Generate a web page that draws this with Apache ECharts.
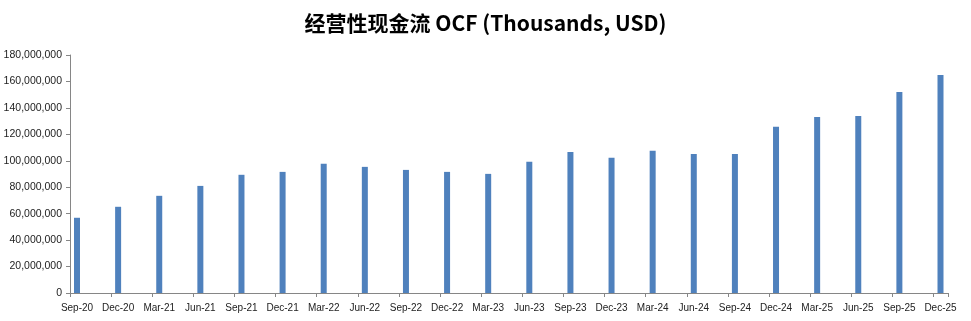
<!DOCTYPE html>
<html>
<head>
<meta charset="utf-8">
<script src="https://cdn.jsdelivr.net/npm/echarts@6/dist/echarts.min.js"></script>
<style>html,body{margin:0;padding:0;background:#fff}#c{width:971px;height:321px}</style>
</head>
<body>
<div id="c"></div>
<script>
var titleText = '经营性现金流 OCF (Thousands, USD)';
var categories = ['Sep-20','Dec-20','Mar-21','Jun-21','Sep-21','Dec-21','Mar-22','Jun-22','Sep-22','Dec-22','Mar-23','Jun-23','Sep-23','Dec-23','Mar-24','Jun-24','Sep-24','Dec-24','Mar-25','Jun-25','Sep-25','Dec-25'];
var ocfValues = [56900000, 65200000, 73500000, 81000000, 89400000, 91600000, 97700000, 95400000, 93100000, 91600000, 90100000, 99200000, 106700000, 102200000, 107500000, 105200000, 105200000, 125700000, 133200000, 133900000, 152000000, 164900000];
var yMin = 0, yMax = 180000000, yStep = 20000000;

var chart = echarts.init(document.getElementById('c'), null, {renderer: 'canvas'});
var axisColor = '#868686';
var labelFont = 'Liberation Sans';
chart.setOption({
  animation: false,
  backgroundColor: '#ffffff',
  title: {
    text: titleText,
    left: 'center',
    top: 8,
    textStyle: {fontFamily: 'Noto Sans CJK SC', fontWeight: 'bold', fontSize: 21, color: '#000'}
  },
  grid: [
    {left: 77, right: 30.5, top: 55, height: 238, containLabel: false},
    {left: 70, right: 23, top: 55, height: 238, containLabel: false}
  ],
  xAxis: [
    {
      gridIndex: 0, type: 'category', data: categories, boundaryGap: false,
      axisLine: {show: false}, axisTick: {show: false},
      axisLabel: {interval: 0, margin: 10, fontFamily: labelFont, fontSize: 10, color: '#222'},
      splitLine: {show: false}
    },
    {
      gridIndex: 1, type: 'value', min: 0, max: 21.35, interval: 1,
      axisLine: {show: true, lineStyle: {color: axisColor, width: 1}},
      axisTick: {show: true, inside: false, length: 4, lineStyle: {color: axisColor}},
      axisLabel: {show: false}, splitLine: {show: false}
    }
  ],
  yAxis: [
    {
      gridIndex: 0, type: 'value', min: yMin, max: yMax, interval: yStep,
      axisLine: {show: false}, axisTick: {show: false}, axisLabel: {show: false}, splitLine: {show: false}
    },
    {
      gridIndex: 1, type: 'value', min: yMin, max: yMax, interval: yStep,
      axisLine: {show: true, lineStyle: {color: axisColor, width: 1}},
      axisTick: {show: true, inside: false, length: 4, lineStyle: {color: axisColor}},
      axisLabel: {margin: 8, fontFamily: labelFont, fontSize: 10.5, color: '#222',
        formatter: function (v) { return Number(v).toLocaleString('en-US'); }},
      splitLine: {show: false}
    }
  ],
  series: [{
    type: 'bar', xAxisIndex: 0, yAxisIndex: 0,
    data: ocfValues, barWidth: 6,
    itemStyle: {color: '#4F81BD'}
  }]
});
</script>
</body>
</html>
